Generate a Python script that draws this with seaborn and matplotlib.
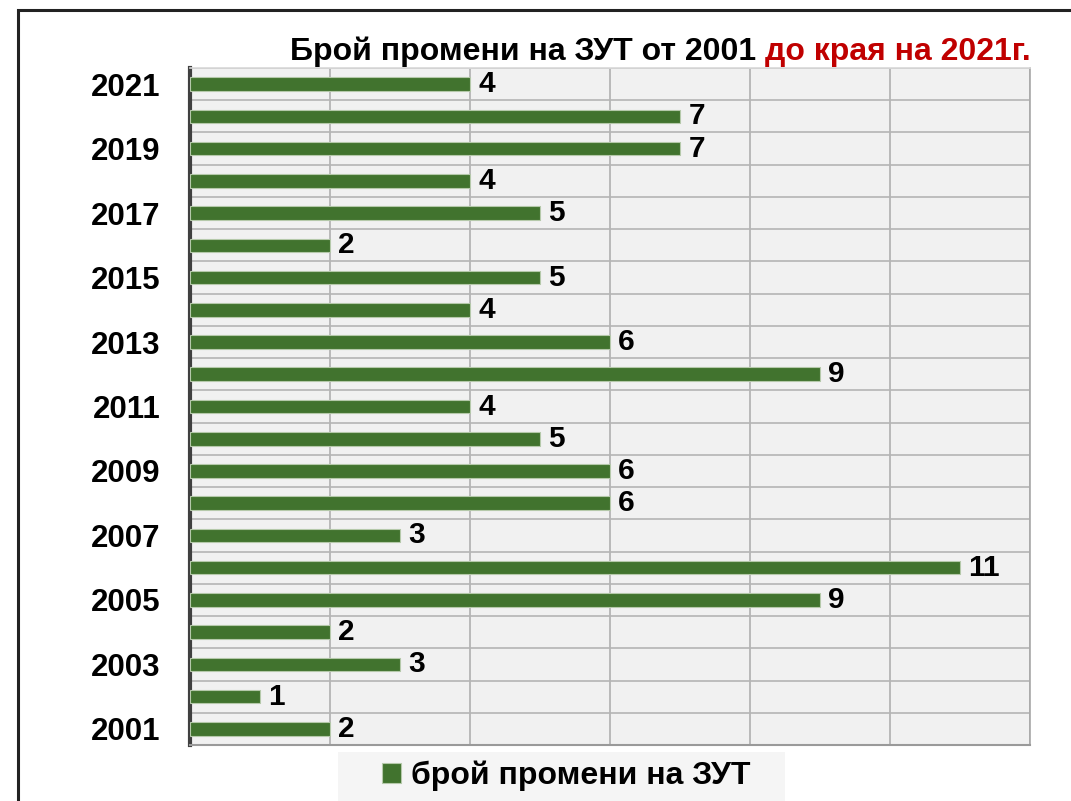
import numpy as np
import pandas as pd
import matplotlib
matplotlib.use('Agg')
import matplotlib.pyplot as plt
import seaborn as sns
from matplotlib.patches import Rectangle

# Данни: брой промени на ЗУТ по години
years = [2021, 2020, 2019, 2018, 2017, 2016, 2015, 2014, 2013, 2012, 2011,
         2010, 2009, 2008, 2007, 2006, 2005, 2004, 2003, 2002, 2001]
changes = [4, 7, 7, 4, 5, 2, 5, 4, 6, 9, 4, 5, 6, 6, 3, 11, 9, 2, 3, 1, 2]
year_labels = [str(y) if y % 2 == 1 else '' for y in years]
x_ticks = [0, 2, 4, 6, 8, 10, 12]

title_black = 'Брой промени на ЗУТ от 2001 '
title_red = 'до края на 2021г.'
series_name = 'брой промени на ЗУТ'

df = pd.DataFrame({'year': [str(y) for y in years], 'changes': changes})

sns.set_theme(style='white')
plt.rcParams['font.family'] = ['Liberation Sans', 'DejaVu Sans']
plt.rcParams['font.weight'] = 'bold'
plt.rcParams['text.color'] = 'black'

W, H = 1071, 801
fig = plt.figure(figsize=(W / 100, H / 100), dpi=100)
ax = fig.add_axes([190 / W, 1 - 745 / H, 840 / W, 677 / H])

green = '#41732e'
sns.barplot(data=df, x='changes', y='year', order=[str(y) for y in years],
            orient='h', color=green, width=0.42, saturation=1,
            edgecolor='#b5c9aa', linewidth=0.8, label=series_name, ax=ax,
            zorder=3)

ax.set_facecolor('#f1f1f1')
ax.set_xlim(0, 12)
ax.set_xticks(x_ticks)
ax.set_xticklabels([])
ax.set_yticks(range(len(years)))
ax.set_yticklabels(year_labels, fontsize=22.5, fontweight='bold', color='black')
ax.set_yticks(np.arange(-0.5, len(years), 1), minor=True)
ax.tick_params(axis='both', which='both', length=0)
ax.tick_params(axis='y', pad=21)
ax.set_xlabel('')
ax.set_ylabel('')
ax.grid(axis='x', which='major', color='#b0b0b0', linewidth=1.2, zorder=0)
ax.grid(axis='y', which='minor', color='#b4b4b4', linewidth=1.2, zorder=0)
ax.grid(axis='y', which='major', visible=False)

ax.spines['left'].set_color('#404040')
ax.spines['left'].set_linewidth(3)
ax.spines['bottom'].set_color('#9a9a9a')
ax.spines['bottom'].set_linewidth(1.5)
ax.spines['right'].set_color('#a8a8a8')
ax.spines['right'].set_linewidth(1.2)
ax.spines['top'].set_color('#d8d8d8')
ax.spines['top'].set_linewidth(1.2)

for cont in ax.containers:
    ax.bar_label(cont, fontsize=21.5, fontweight='bold', color='black',
                 padding=6)

if ax.legend_:
    ax.legend_.remove()

# Заглавие в два цвята
t1 = fig.text(290 / W, 1 - 60 / H, title_black, fontsize=23, fontweight='bold',
              color='black', ha='left', va='baseline')
fig.canvas.draw()
ax.annotate(title_red, xy=(1, 0), xycoords=t1, va='bottom', ha='left',
            fontsize=23, fontweight='bold', color='#c00000',
            annotation_clip=False)

# Рамка
fig.patches.append(Rectangle((18 / W, -0.2), 1.2, 1.2 - 10 / H,
                             transform=fig.transFigure, fill=False,
                             edgecolor='#222222', linewidth=2.2))

# Легенда
fig.patches.append(Rectangle((338 / W, 0), 447 / W, 49 / H,
                             transform=fig.transFigure, facecolor='#f5f5f5',
                             edgecolor='none'))
handles, labels = ax.get_legend_handles_labels()
fig.legend(handles[:1], labels[:1], loc='center', bbox_to_anchor=(566 / W, 1 - 776 / H),
           frameon=False, handlelength=0.6, handleheight=0.6,
           handletextpad=0.3, labelcolor='black',
           prop={'size': 23, 'weight': 'bold'})

fig.savefig('out.png', dpi=100)
